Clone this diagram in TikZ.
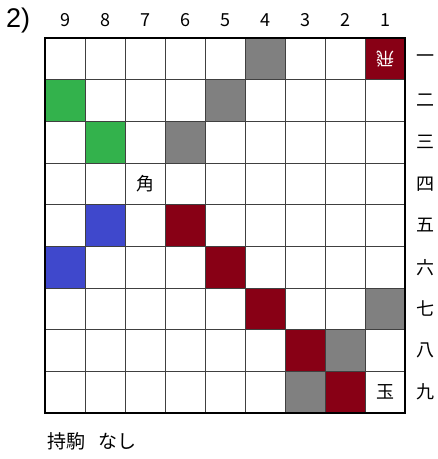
\documentclass[tikz,border=0pt]{standalone}
\usepackage{fontspec}
\setmainfont{Liberation Sans}
\newfontfamily\jp{Noto Sans CJK JP}
\definecolor{cgray}{HTML}{808080}
\definecolor{cred}{HTML}{880015}
\definecolor{cgreen}{HTML}{33B24C}
\definecolor{cblue}{HTML}{3F48CC}
\begin{document}
\begin{tikzpicture}[x=1pt,y=-1pt,
  lbl/.style={font=\jp\fontsize{18}{18}\selectfont, inner sep=0pt},
  piece/.style={font=\jp\fontsize{18}{18}\selectfont, inner sep=0pt}]
\useasboundingbox (0,0) rectangle (438,459);
\def\cw{40}\def\ch{41.67}
\def\X{45}\def\Y{38}
% cell fills: file, rank, color
\foreach \f/\r/\c in {4/1/cgray,1/1/cred,9/2/cgreen,5/2/cgray,8/3/cgreen,6/3/cgray,
  8/5/cblue,6/5/cred,9/6/cblue,5/6/cred,4/7/cred,1/7/cgray,3/8/cred,2/8/cgray,3/9/cgray,2/9/cred}{
  \fill[\c] ({\X+(9-\f)*\cw},{\Y+(\r-1)*\ch}) rectangle ++(\cw,\ch);
}
% grid
\foreach \i in {1,...,8}{
  \draw[line width=1pt,black!75] ({\X+\i*\cw},\Y) -- ({\X+\i*\cw},{\Y+9*\ch});
  \draw[line width=1pt,black!75] (\X,{\Y+\i*\ch}) -- ({\X+9*\cw},{\Y+\i*\ch});
}
\draw[line width=2.5pt] (\X,\Y) rectangle ({\X+9*\cw},{\Y+9*\ch});
% column numbers
\foreach \f in {1,...,9}{
  \node[lbl] (c\f) at ({\X+(9-\f+0.5)*\cw},20) {\f};
}
% row labels
\foreach \r/\k in {1/一,2/二,3/三,4/四,5/五,6/六,7/七,8/八,9/九}{
  \node[lbl] (r\r) at (425,{\Y+(\r-0.5)*\ch}) {\k};
}
% pieces
\node[piece,text=white,rotate=180] (hi) at ({\X+8.5*\cw},{\Y+0.5*\ch}) {飛};
\node[piece] (kaku) at ({\X+2.5*\cw},{\Y+3.5*\ch}) {角};
\node[piece] (gyoku) at ({\X+8.5*\cw},{\Y+8.5*\ch}) {玉};
% title and hand
\node[font=\fontsize{27}{27}\selectfont, inner sep=0pt, anchor=west] (title) at (6,21) {2)};
\node[font=\jp\fontsize{19}{19}\selectfont, inner sep=0pt, anchor=west] (hand) at (47,441) {持駒\hspace{0.7em}なし};
\end{tikzpicture}
\end{document}
